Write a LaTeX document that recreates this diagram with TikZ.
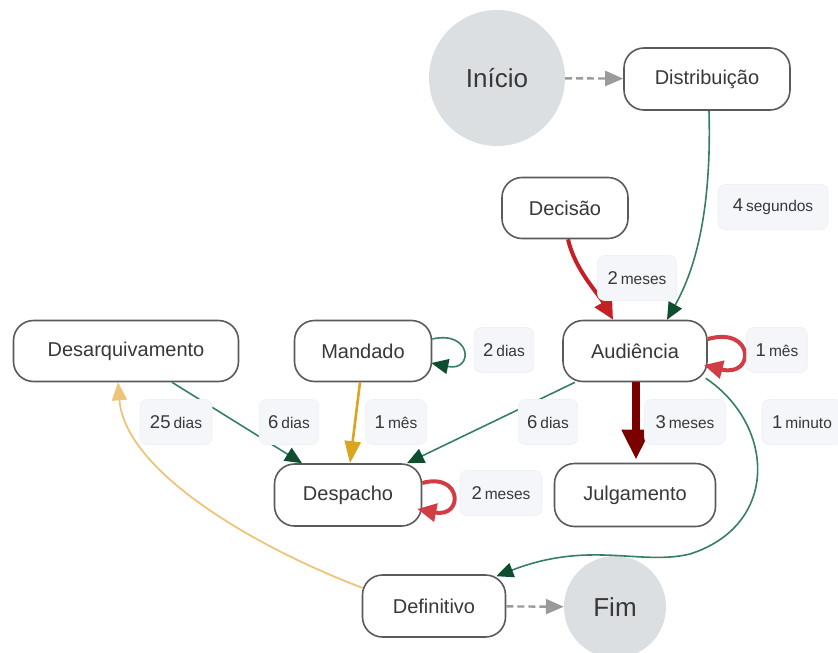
\documentclass[tikz,border=0pt]{standalone}
\usepackage{fontspec}
\setmainfont{Liberation Sans}
\usetikzlibrary{arrows.meta}
\definecolor{boxgray}{HTML}{5A5A5A}
\definecolor{textgray}{HTML}{383838}
\definecolor{circgray}{HTML}{DCDFE1}
\definecolor{lblfill}{HTML}{F5F6F9}
\definecolor{lbldraw}{HTML}{EEF0F4}
\definecolor{gline}{HTML}{35805F}
\definecolor{ghead}{HTML}{0E4D2E}
\definecolor{redA}{HTML}{C42026}
\definecolor{redL}{HTML}{D23C44}
\definecolor{darkred}{HTML}{7A0000}
\definecolor{gold}{HTML}{DBA520}
\definecolor{lorange}{HTML}{EDC47A}
\definecolor{dgray}{HTML}{9A9A9A}
\newcommand{\tlab}[2]{{\fontsize{18.5}{20}\selectfont #1}\hspace{3pt}{\fontsize{15.5}{18}\selectfont #2}}
\tikzset{
  stepbox/.style={draw=boxgray, line width=1.6pt, rounded corners=20pt, fill=white,
    inner sep=0pt, text=textgray, font=\fontsize{20}{24}\selectfont},
  endcirc/.style={circle, fill=circgray, inner sep=0pt, text=textgray,
    font=\fontsize{26}{30}\selectfont},
  lbl/.style={fill=lblfill, draw=lbldraw, line width=0.6pt, rounded corners=7pt,
    minimum height=45pt, inner xsep=9pt, inner ysep=0pt, text=textgray},
  garr/.style={draw=gline, line width=1.6pt, -{Triangle[length=17pt,width=15pt,color=ghead]}},
  dasharr/.style={draw=dgray, line width=2.4pt, dash pattern=on 7pt off 4pt,
    -{Triangle[length=18pt,width=15pt,color=dgray]}},
  loopred/.style={draw=redL, line width=4pt, -{Triangle[length=19pt,width=18pt,color=redL]}},
}
\begin{document}
\begin{tikzpicture}[x=1pt,y=-1pt]
\useasboundingbox (0,0) rectangle (838,653);
% nodes
\node[endcirc, minimum size=136pt] (inicio) at (497,78) {Início};
\node[stepbox, minimum width=166pt, minimum height=62pt] (distrib) at (707,79) {Distribuição};
\node[stepbox, minimum width=126pt, minimum height=61pt] (decisao) at (565,208) {Decisão};
\node[stepbox, minimum width=144pt, minimum height=61pt] (audiencia) at (635,351) {Audiência};
\node[stepbox, minimum width=161pt, minimum height=63pt] (julg) at (635,495) {Julgamento};
\node[stepbox, minimum width=225pt, minimum height=61pt] (desarq) at (126,351) {Desarquivamento};
\node[stepbox, minimum width=137pt, minimum height=61pt] (mandado) at (363,351) {Mandado};
\node[stepbox, minimum width=147pt, minimum height=62pt] (despacho) at (348,495) {Despacho};
\node[stepbox, minimum width=143pt, minimum height=62pt] (definitivo) at (434,606) {Definitivo};
\node[endcirc, minimum size=102pt] (fim) at (615,607) {Fim};
% edges
\draw[dasharr] (inicio) -- (distrib);
\draw[dasharr] (definitivo) -- (fim);
\draw[garr] ([xshift=2pt]distrib.south) .. controls (712,220) and (692,275) .. ([xshift=32pt]audiencia.north);
\draw[draw=redA, line width=4pt, -{Triangle[length=20pt,width=19pt,color=redA]}]
  ([xshift=3pt]decisao.south) .. controls (575,270) and (598,293) .. ([xshift=-22pt]audiencia.north);
\draw[loopred] ([yshift=12pt]audiencia.east) .. controls (755,326) and (755,378) .. ([xshift=-4pt,yshift=-14pt]audiencia.east);
\draw[garr] ([yshift=12pt]mandado.east) .. controls (472,330) and (474,372) .. ([xshift=-1pt,yshift=-12pt]mandado.east);
\draw[loopred] ([yshift=12pt]despacho.east) .. controls (462,472) and (464,518) .. ([xshift=-5pt,yshift=-14pt]despacho.east);
\draw[draw=darkred, line width=8pt, -{Triangle[length=30pt,width=27pt,color=darkred]}]
  ([xshift=1pt]audiencia.south) -- ([xshift=1pt,yshift=3pt]julg.north);
\draw[garr] ([xshift=-60pt]audiencia.south) -- ([xshift=59pt]despacho.north);
\draw[garr] ([xshift=46pt]desarq.south) -- ([xshift=-46pt]despacho.north);
\draw[draw=gold, line width=2.6pt, -{Triangle[length=22pt,width=16pt,color=gold]}]
  ([xshift=-3pt]mandado.south) -- ([xshift=2pt]despacho.north);
\draw[draw=lorange, line width=1.8pt, -{Triangle[length=18pt,width=15pt,color=lorange]}]
  ([xshift=1pt,yshift=18pt]definitivo.west) .. controls (250,545) and (125,470) .. ([xshift=-8pt]desarq.south);
\draw[garr] ([xshift=-2pt,yshift=4pt]audiencia.south east) .. controls (775,425) and (780,525) .. (690,554)
  .. controls (640,566) and (590,540) .. ([xshift=-10pt,yshift=-2pt]definitivo.north east);
% labels
\node[lbl, minimum width=110pt] (l1) at (773,207) {\tlab{4}{segundos}};
\node[lbl, minimum width=79pt] (l2) at (637,278) {\tlab{2}{meses}};
\node[lbl, minimum width=58pt] (l3) at (504,350) {\tlab{2}{dias}};
\node[lbl, minimum width=59pt] (l4) at (777,350) {\tlab{1}{mês}};
\node[lbl, minimum width=72pt] (l5) at (176,422) {\tlab{25}{dias}};
\node[lbl, minimum width=58pt] (l6) at (289,422) {\tlab{6}{dias}};
\node[lbl, minimum width=58pt] (l7) at (396,422) {\tlab{1}{mês}};
\node[lbl, minimum width=57pt] (l8) at (548,422) {\tlab{6}{dias}};
\node[lbl, minimum width=81pt] (l9) at (685,422) {\tlab{3}{meses}};
\node[lbl, minimum width=80pt] (l10) at (802,422) {\tlab{1}{minuto}};
\node[lbl, minimum width=82pt] (l11) at (501,493) {\tlab{2}{meses}};
\end{tikzpicture}
\end{document}
